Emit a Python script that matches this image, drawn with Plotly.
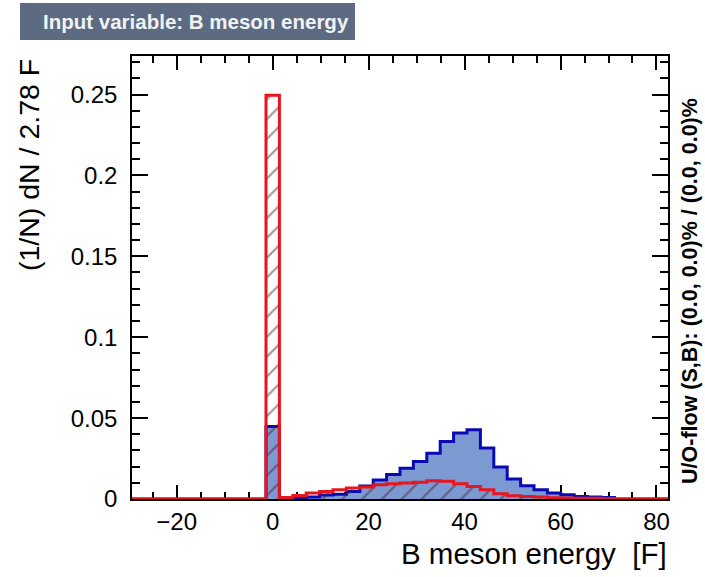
import plotly.graph_objects as go

# ---- data -------------------------------------------------------------
x_min = -29.3
x_max = 82.4
n_bins = 40

signal = [0, 0, 0, 0, 0, 0, 0, 0, 0, 0,
          0.0448, 0.0008, 0.0006, 0.0012, 0.0025, 0.0030, 0.0047, 0.0080, 0.0118, 0.0152,
          0.0190, 0.0232, 0.0282, 0.0356, 0.0408, 0.0428, 0.0315, 0.0198, 0.0123, 0.0082,
          0.0057, 0.0037, 0.0027, 0.0016, 0.0012, 0.0010, 0, 0, 0, 0]

background = [0, 0, 0, 0, 0, 0, 0, 0, 0, 0,
              0.2495, 0.0010, 0.0022, 0.0037, 0.0047, 0.0057, 0.0068, 0.0074, 0.0088, 0.0094,
              0.0099, 0.0103, 0.0113, 0.0109, 0.0095, 0.0078, 0.0057, 0.0033, 0.0020, 0.0016,
              0.0012, 0.0008, 0.0006, 0.0005, 0.0004, 0.0003, 0, 0, 0, 0]

title_text = "Input variable: B meson energy"
x_title = "B meson energy \u00a0[F]"
y_title = "(1/N) dN / 2.78 F"
flow_text = "U/O-flow (S,B): (0.0, 0.0)% / (0.0, 0.0)%"

# ---- build ------------------------------------------------------------
width = (x_max - x_min) / n_bins
edges = [x_min + i * width for i in range(n_bins + 1)]

FONT = "Liberation Sans, Arial, Helvetica, sans-serif"

fig = go.Figure()
fig.add_trace(go.Scatter(
    x=edges, y=signal + [signal[-1]], mode="lines", line_shape="hv",
    line=dict(color="#0a0ab4", width=3),
    fill="tozeroy", fillcolor="#7d99d1", hoverinfo="skip", showlegend=False))
fig.add_trace(go.Scatter(
    x=edges, y=background + [background[-1]], mode="lines", line_shape="hv",
    line=dict(color="#e8141e", width=3),
    fill="tozeroy", fillcolor="rgba(0,0,0,0)",
    fillpattern=dict(shape="/", fgcolor="#4a1a22", bgcolor="rgba(0,0,0,0)",
                     size=14, solidity=0.14, fillmode="overlay"),
    hoverinfo="skip", showlegend=False))

L, R, T, B = 132, 668, 56, 499
W, H = 705, 577
pw, ph = R - L, B - T

def px(xp):
    return (xp - L) / pw

def py(yp):
    return (B - yp) / ph

fig.update_layout(
    width=W, height=H,
    margin=dict(l=L, r=W - R, t=T, b=H - B, pad=0),
    paper_bgcolor="white", plot_bgcolor="white",
    font=dict(family=FONT, color="black"),
    xaxis=dict(range=[x_min, x_max], showgrid=False, zeroline=False,
               showline=True, linecolor="black", linewidth=1.5, mirror="allticks",
               ticks="inside", ticklen=14, tickwidth=1.5, tickcolor="black",
               dtick=20, tick0=0, tickfont=dict(size=24, family=FONT),
               ticklabelstandoff=0,
               minor=dict(ticks="inside", ticklen=7, tickwidth=1.5, tickcolor="black",
                          dtick=5, tick0=0, showgrid=False),
               layer="below traces"),
    yaxis=dict(range=[0, 0.2738], showgrid=False, zeroline=False,
               showline=True, linecolor="black", linewidth=1.5, mirror="allticks",
               ticks="inside", ticklen=16, tickwidth=1.5, tickcolor="black",
               dtick=0.05, tick0=0, tickfont=dict(size=24, family=FONT),
               ticklabelstandoff=8,
               minor=dict(ticks="inside", ticklen=8, tickwidth=1.5, tickcolor="black",
                          dtick=0.01, tick0=0, showgrid=False),
               layer="below traces"),
    shapes=[dict(type="rect", xref="paper", yref="paper",
                 x0=px(20), x1=px(355), y0=py(40), y1=py(3),
                 fillcolor="#5c6b82", line=dict(width=0), layer="above")],
    annotations=[
        dict(text="<b>" + title_text + "</b>", xref="paper", yref="paper",
             x=px(41), y=py(21), xanchor="left", yanchor="middle", showarrow=False,
             font=dict(size=20.5, color="#f2f2f2", family=FONT)),
        dict(text=x_title, xref="paper", yref="paper",
             x=px(669), y=py(553), xanchor="right", yanchor="middle", showarrow=False,
             font=dict(size=29.5, family=FONT)),
        dict(text=y_title, xref="paper", yref="paper", textangle=-90,
             x=px(29), y=py(165), xanchor="center", yanchor="middle", showarrow=False,
             font=dict(size=28.5, family=FONT)),
        dict(text="<b>" + flow_text + "</b>", xref="paper", yref="paper", textangle=-90,
             x=px(690), y=py(291), xanchor="center", yanchor="middle", showarrow=False,
             font=dict(size=21.5, family=FONT)),
    ],
)

fig.write_html("out.html")
